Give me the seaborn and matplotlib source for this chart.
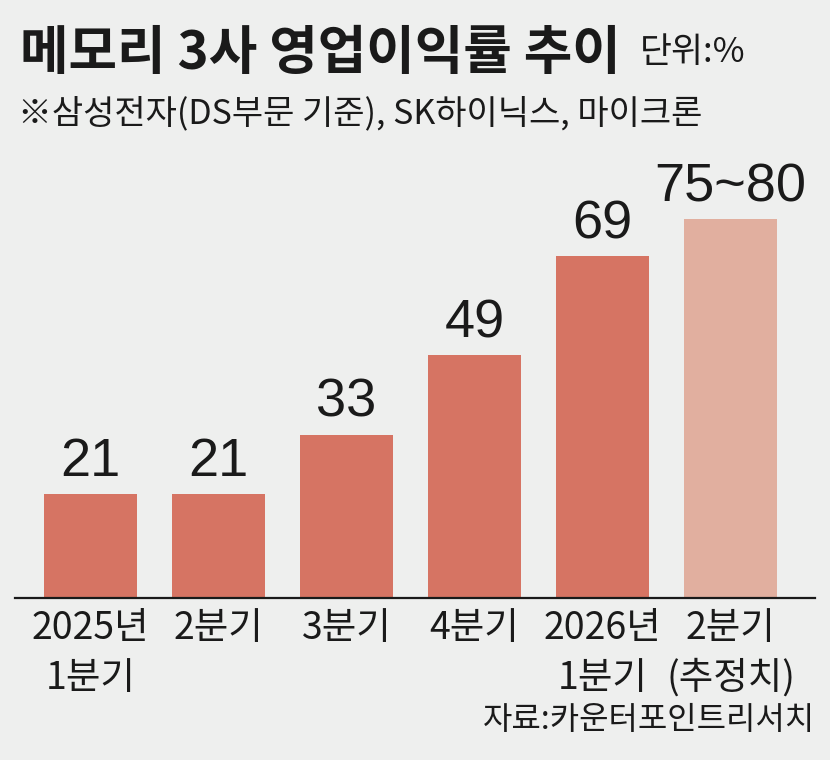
import matplotlib
matplotlib.use("Agg")
import matplotlib.pyplot as plt
import matplotlib.font_manager as fm
import seaborn as sns
import pandas as pd

quarters = ['2025년\n1분기', '2분기', '3분기', '4분기', '2026년\n1분기', '2분기\n(추정치)']
margins = [21, 21, 33, 49, 69, 76.5]
value_labels = ['21', '21', '33', '49', '69', '75~80']
bar_colors = ['#d67463', '#d67463', '#d67463', '#d67463', '#d67463', '#e1af9f']

BG = '#eeefee'
INK = '#1a1a1a'

sns.set_theme(style="white")
plt.rcParams['font.family'] = ['Noto Sans CJK KR', 'DejaVu Sans']

names = {f.name for f in fm.fontManager.ttflist}
num_font = 'Liberation Sans Narrow' if 'Liberation Sans Narrow' in names else 'Liberation Sans'

df = pd.DataFrame({'quarter': quarters, 'margin': margins})

fig = plt.figure(figsize=(8.3, 7.6), dpi=100, facecolor=BG)
ax = fig.add_axes([15 / 830, 162 / 760, 800 / 830, 448 / 760])
ax.set_facecolor(BG)

sns.barplot(data=df, x='quarter', y='margin', hue='quarter',
            palette=dict(zip(quarters, bar_colors)), legend=False,
            width=0.727, saturation=1, linewidth=0, edgecolor='none', ax=ax)

ax.set_xlim(-0.59, 5.66)
ax.set_ylim(0, 90.5)
for s in ['top', 'right', 'left']:
    ax.spines[s].set_visible(False)
ax.spines['bottom'].set_color(INK)
ax.spines['bottom'].set_linewidth(1.6)
ax.set_yticks([])
ax.set_xlabel('')
ax.set_ylabel('')
ax.tick_params(axis='x', length=0, pad=8, labelsize=27, labelcolor=INK)
for lbl in ax.get_xticklabels():
    lbl.set_linespacing(1.35)

# value labels above bars
for cont, txt in zip(ax.containers, value_labels):
    ax.bar_label(cont, labels=[txt], padding=5, fontsize=39,
                 color=INK, family=num_font)

# titles
fig.text(20 / 830, 1 - 27 / 760, '메모리 3사 영업이익률 추이', fontsize=38,
         fontweight='bold', color=INK, va='top', ha='left')
fig.text(640 / 830, 1 - 35 / 760, '단위:%', fontsize=25,
         color=INK, va='top', ha='left')
fig.text(18 / 830, 1 - 96 / 760, '※삼성전자(DS부문 기준), SK하이닉스, 마이크론',
         fontsize=24.5, color=INK, va='top', ha='left')
fig.text(815 / 830, 1 - 704 / 760, '자료:카운터포인트리서치', fontsize=23,
         color=INK, va='top', ha='right')

fig.savefig('out.png', dpi=100, facecolor=BG)
